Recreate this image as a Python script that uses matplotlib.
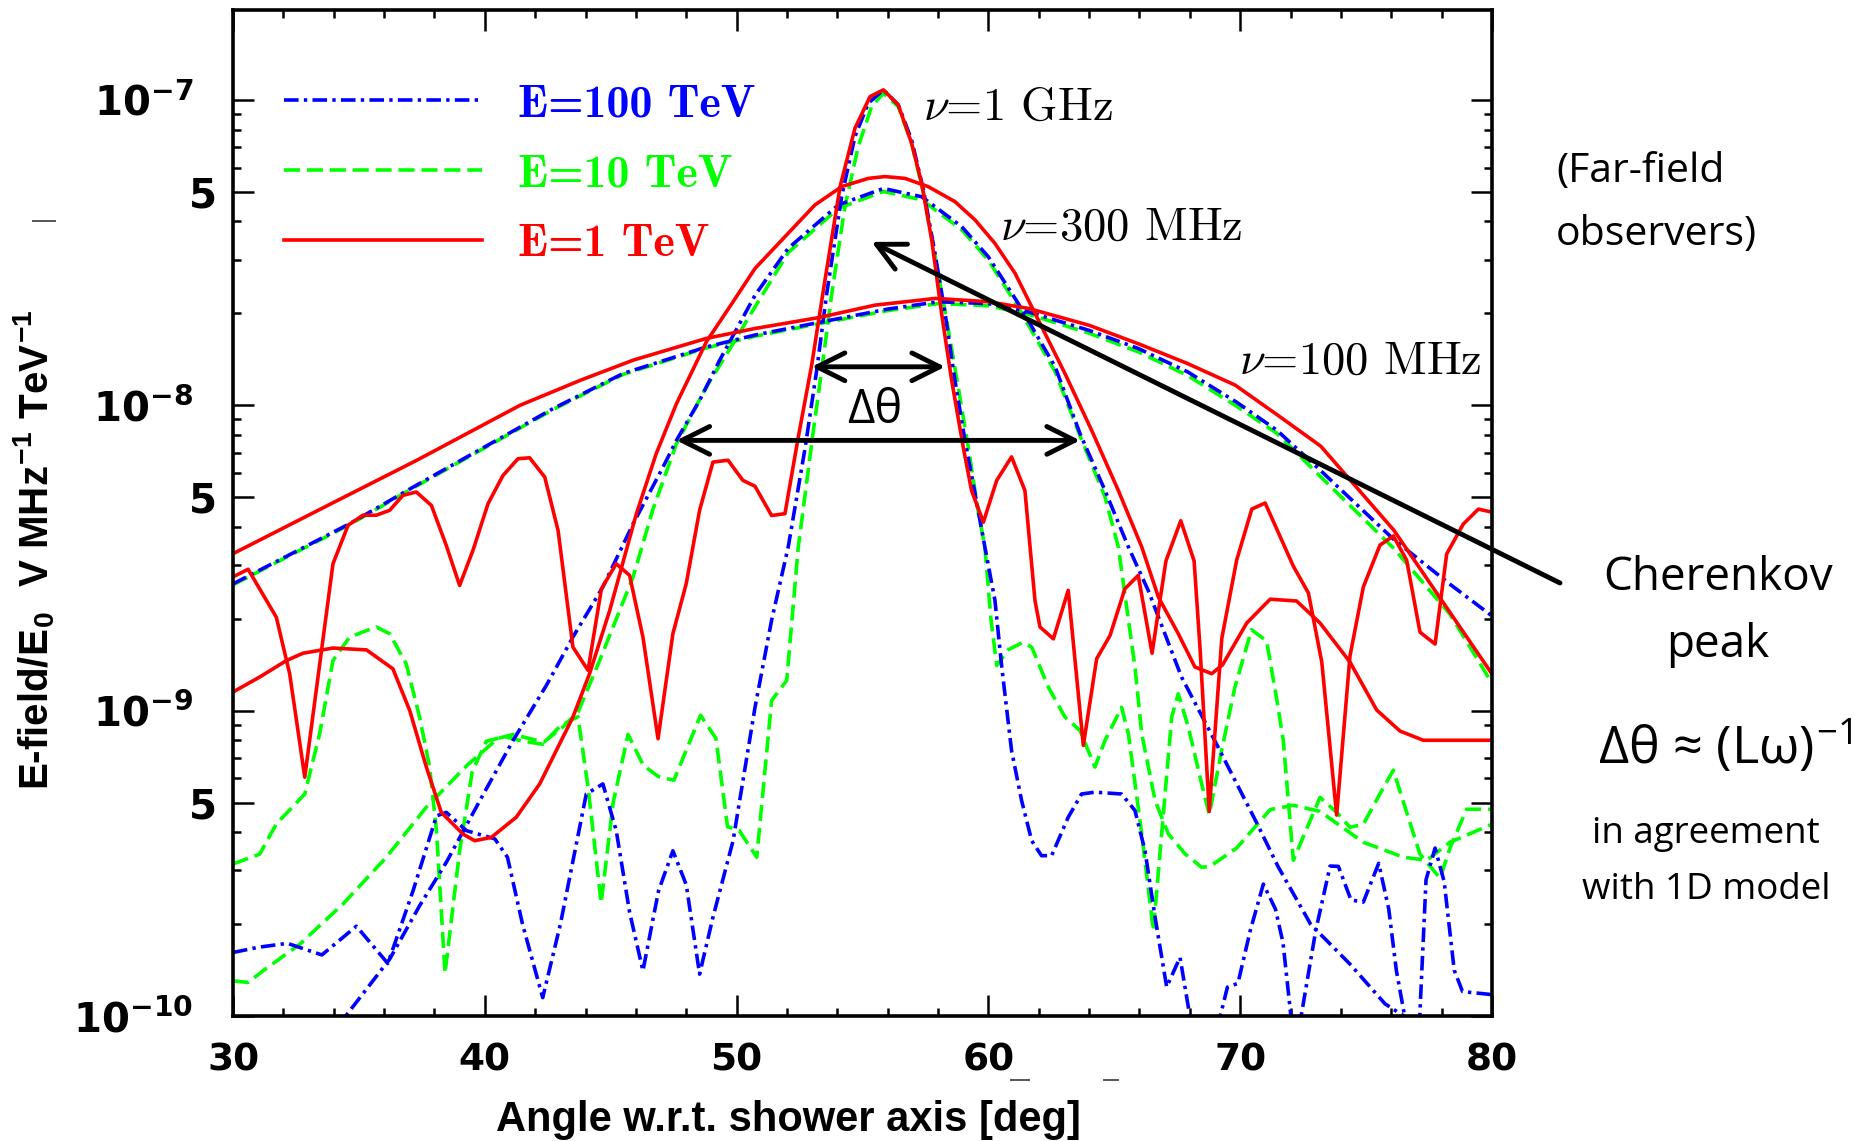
import numpy as np
import matplotlib
matplotlib.use("Agg")
import matplotlib.pyplot as plt
from matplotlib.lines import Line2D
from matplotlib.ticker import FixedLocator, NullFormatter

plt.rcParams["mathtext.fontset"] = "cm"
plt.rcParams["lines.scale_dashes"] = False
plt.rcParams["axes.unicode_minus"] = True

# ---------------------------------------------------------------------------
# Far-field electric field per unit shower energy, log10(E/E0 [V MHz^-1 TeV^-1])
# versus observation angle w.r.t. the shower axis [deg]
# ---------------------------------------------------------------------------

# nu = 100 MHz
ang_r100 = [30.0, 34.0, 37.3, 41.4, 43.8, 45.9, 48.8, 50.7, 53.25, 55.5, 57.9,
            60.0, 61.6, 64.0, 66.0, 67.9, 69.8, 71.5, 73.2, 76.1, 80.0]
log_r100 = [-8.486, -8.318, -8.180, -8.000, -7.918, -7.852, -7.781, -7.749, -7.713,
            -7.672, -7.650, -7.661, -7.683, -7.738, -7.800, -7.863, -7.934, -8.033,
            -8.134, -8.409, -8.880]

ang_b100 = [30.0, 34.63, 37.28, 42.71, 45.49, 48.8, 50.73, 53.38, 56.0, 58.01, 60.0,
            61.58, 63.97, 65.95, 67.9, 69.86, 71.46, 73.17, 76.08, 78.33, 80.0]
log_b100 = [-8.585, -8.388, -8.262, -8.011, -7.896, -7.809, -7.770, -7.727, -7.685,
            -7.661, -7.667, -7.694, -7.754, -7.814, -7.890, -7.990, -8.082, -8.212,
            -8.438, -8.586, -8.690]

ang_g100 = [30.0, 34.63, 37.28, 42.71, 45.49, 48.8, 50.73, 53.38, 56.0, 58.01, 60.0,
            61.58, 63.97, 65.95, 67.9, 69.86, 71.46, 73.17, 76.08, 78.33, 80.0]
log_g100 = [-8.588, -8.391, -8.265, -8.014, -7.899, -7.812, -7.774, -7.731, -7.690,
            -7.667, -7.674, -7.702, -7.763, -7.825, -7.902, -8.003, -8.092, -8.232,
            -8.467, -8.684, -8.910]

# nu = 300 MHz
ang_r300 = [30.0, 31.06, 32.12, 32.78, 33.97, 35.3, 36.35, 37.02, 37.68, 38.27, 39.13,
            39.6, 40.26, 41.25, 42.18, 43.5, 44.16, 44.96, 46.02, 46.81, 47.61, 48.8,
            49.86, 50.73, 51.92, 53.11, 54.17, 55.23, 55.89, 56.69, 57.61, 58.67, 59.47,
            60.26, 61.06, 62.25, 63.04, 64.1, 65.16, 66.09, 66.75, 67.54, 68.2, 68.87,
            69.3, 70.26, 71.19, 72.24, 73.17, 74.36, 75.42, 76.35, 77.27, 78.33, 80.0]
log_r300 = [-8.939, -8.890, -8.836, -8.812, -8.795, -8.801, -8.863, -9.000, -9.185,
            -9.333, -9.404, -9.426, -9.415, -9.349, -9.240, -9.021, -8.879, -8.672,
            -8.355, -8.158, -7.995, -7.792, -7.661, -7.552, -7.448, -7.344, -7.284,
            -7.257, -7.251, -7.257, -7.284, -7.333, -7.393, -7.470, -7.568, -7.765,
            -7.896, -8.082, -8.279, -8.464, -8.628, -8.748, -8.857, -8.879, -8.850,
            -8.713, -8.635, -8.641, -8.713, -8.841, -8.998, -9.067, -9.097, -9.097,
            -9.097]

ang_b300 = [34.0, 34.43, 36.22, 37.41, 38.47, 39.8, 41.12, 42.44, 43.5, 44.69, 45.89,
            47.08, 47.61, 48.53, 49.33, 50.73, 52.05, 54.04, 55.83, 57.35, 58.94, 60.0,
            61.19, 62.65, 63.64, 64.63, 65.56, 66.35, 67.67, 69.0, 70.67, 71.5, 72.8,
            74.36, 75.75, 76.5, 77.5]
log_b300 = [-10.05, -10.005, -9.814, -9.639, -9.497, -9.295, -9.098, -8.918, -8.759,
            -8.595, -8.388, -8.202, -8.115, -7.984, -7.852, -7.640, -7.486, -7.344,
            -7.290, -7.317, -7.415, -7.514, -7.667, -7.874, -8.093, -8.279, -8.464,
            -8.607, -8.890, -9.100, -9.370, -9.510, -9.700, -9.830, -9.960, -10.000,
            -10.080]

ang_g300 = [30.0, 30.6, 31.19, 32.65, 34.37, 36.09, 37.68, 39.31, 40.52, 41.13, 42.34,
            43.11, 43.71, 44.56, 45.89, 46.68, 47.61, 48.8, 49.86, 50.73, 52.05, 54.04,
            55.83, 57.35, 58.94, 60.0, 61.19, 62.65, 63.64, 64.63, 65.16, 65.82, 66.09,
            66.62, 67.15, 67.81, 68.47, 68.8, 69.86, 71.19, 72.11, 73.17, 74.89, 76.48,
            77.41, 78.33, 80.0]
log_g300 = [-9.885, -9.890, -9.852, -9.765, -9.633, -9.480, -9.316, -9.178, -9.091,
            -9.078, -9.103, -9.053, -9.003, -8.836, -8.562, -8.340, -8.126, -7.940,
            -7.798, -7.678, -7.500, -7.355, -7.300, -7.327, -7.425, -7.525, -7.680,
            -7.890, -8.100, -8.300, -8.464, -8.857, -9.076, -9.295, -9.404, -9.469,
            -9.513, -9.510, -9.450, -9.324, -9.310, -9.330, -9.431, -9.480, -9.490,
            -9.431, -9.372]

# nu = 1 GHz
ang_r1g = [30.0, 30.6, 31.72, 32.25, 32.85, 33.97, 34.57, 35.16, 35.69, 36.22, 36.75,
           37.28, 37.88, 38.47, 39.0, 39.53, 40.13, 40.72, 41.32, 41.78, 42.38, 42.91,
           43.5, 44.1, 44.63, 45.22, 45.75, 46.28, 46.88, 47.47, 48.0, 48.53, 49.06,
           49.66, 50.25, 50.73, 51.39, 51.92, 52.45, 52.98, 53.51, 54.11, 54.7, 55.3,
           55.83, 56.42, 56.95, 57.35, 57.75, 58.14, 58.54, 59.0, 59.33, 59.8, 60.33,
           60.92, 61.45, 61.85, 62.05, 62.58, 63.17, 63.77, 64.3, 64.83, 65.42, 65.95,
           66.5, 67.05, 67.64, 68.17, 68.41, 68.77, 69.27, 69.86, 70.46, 70.99, 72.11,
           72.71, 73.24, 73.83, 74.36, 74.89, 75.55, 76.08, 76.61, 77.14, 77.74, 78.2,
           78.86, 79.46, 80.0]
log_r1g = [-8.562, -8.537, -8.694, -8.879, -9.218, -8.519, -8.393, -8.360, -8.360,
           -8.344, -8.295, -8.284, -8.328, -8.459, -8.590, -8.475, -8.322, -8.230,
           -8.175, -8.172, -8.235, -8.410, -8.792, -8.868, -8.601, -8.519, -8.557,
           -8.759, -9.092, -8.748, -8.584, -8.344, -8.186, -8.180, -8.246, -8.265,
           -8.361, -8.355, -8.104, -7.869, -7.590, -7.284, -7.093, -6.989, -6.967,
           -7.016, -7.142, -7.273, -7.459, -7.699, -7.918, -8.137, -8.279, -8.383,
           -8.246, -8.169, -8.279, -8.640, -8.726, -8.765, -8.606, -9.114, -8.830,
           -8.754, -8.601, -8.557, -8.812, -8.510, -8.378, -8.510, -8.802, -9.330,
           -8.763, -8.507, -8.340, -8.320, -8.527, -8.615, -8.841, -9.342, -8.821,
           -8.595, -8.458, -8.428, -8.507, -8.743, -8.782, -8.487, -8.389, -8.340,
           -8.350]

ang_b1g = [30.0, 31.0, 32.16, 33.53, 34.9, 36.15, 37.15, 38.08, 38.47, 39.27, 40.4,
           40.9, 41.5, 42.3, 43.0, 44.03, 44.69, 45.22, 45.75, 46.28, 46.9, 47.47, 48.0,
           48.53, 49.06, 49.86, 50.73, 51.39, 52.05, 52.72, 53.18, 53.58, 54.17, 54.7,
           55.23, 55.83, 56.42, 56.95, 57.42, 57.88, 58.28, 58.67, 59.07, 59.47, 59.86,
           60.26, 60.53, 60.92, 61.32, 61.72, 62.11, 62.51, 63.17, 63.7, 64.23, 65.29,
           65.82, 66.22, 66.62, 67.08, 67.61, 68.01, 68.5, 69.15, 69.49, 69.91, 70.4,
           70.92, 71.4, 71.7, 72.04, 72.2, 72.38, 73.0, 73.57, 73.9, 74.4, 74.89, 75.5,
           75.9, 76.2, 76.53, 76.8, 77.12, 77.38, 77.74, 78.1, 78.5, 78.83, 80.0]
log_b1g = [-9.792, -9.775, -9.762, -9.800, -9.706, -9.828, -9.590, -9.345, -9.333,
           -9.393, -9.420, -9.480, -9.700, -9.940, -9.700, -9.273, -9.240, -9.393,
           -9.660, -9.852, -9.590, -9.459, -9.570, -9.863, -9.677, -9.426, -8.990,
           -8.704, -8.464, -8.140, -7.886, -7.634, -7.317, -7.120, -7.011, -6.967,
           -7.016, -7.131, -7.295, -7.503, -7.699, -7.918, -8.115, -8.290, -8.464,
           -8.639, -8.857, -9.131, -9.295, -9.426, -9.475, -9.475, -9.349, -9.273,
           -9.267, -9.273, -9.327, -9.459, -9.677, -9.905, -9.808, -10.005, -10.40,
           -10.02, -9.906, -9.893, -9.720, -9.568, -9.650, -9.760, -10.02, -10.30,
           -10.02, -9.720, -9.509, -9.510, -9.620, -9.627, -9.500, -9.650, -9.850,
           -10.00, -10.30, -10.02, -9.554, -9.450, -9.560, -9.850, -9.920, -9.930]

ang_g1g = [30.0, 31.06, 31.72, 32.85, 33.44, 33.97, 34.63, 35.69, 36.22, 36.88, 37.41,
           37.81, 38.08, 38.42, 39.0, 39.5, 40.06, 40.8, 41.5, 42.3, 43.0, 43.7, 44.1,
           44.62, 45.1, 45.69, 46.3, 46.9, 47.51, 48.57, 49.18, 49.64, 50.1, 50.8,
           51.39, 51.99, 52.45, 53.05, 53.38, 53.78, 54.3, 54.83, 55.36, 55.83, 56.42,
           56.95, 57.42, 57.9, 58.34, 58.8, 59.2, 59.6, 59.86, 60.1, 60.33, 60.8, 61.35,
           61.72, 62.38, 63.04, 63.64, 64.23, 64.63, 65.29, 65.56, 66.09, 66.55, 66.88,
           67.28, 67.54, 67.94, 68.47, 68.77, 69.26, 69.79, 70.45, 71.05, 71.46, 71.71,
           72.11, 73.17, 73.83, 74.36, 74.89, 75.5, 76.08, 77.14, 77.94, 78.33, 78.99,
           80.0]
log_g1g = [-9.502, -9.470, -9.371, -9.273, -9.076, -8.836, -8.759, -8.726, -8.748,
           -8.847, -9.021, -9.185, -9.393, -9.860, -9.460, -9.200, -9.100, -9.085,
           -9.100, -9.110, -9.050, -9.020, -9.250, -9.630, -9.300, -9.078, -9.180,
           -9.216, -9.228, -9.015, -9.091, -9.380, -9.392, -9.480, -8.967, -8.901,
           -8.464, -8.082, -7.885, -7.634, -7.350, -7.153, -7.022, -6.978, -7.022,
           -7.142, -7.306, -7.520, -7.721, -7.940, -8.137, -8.350, -8.464, -8.700,
           -8.852, -8.800, -8.777, -8.792, -8.923, -9.021, -9.065, -9.185, -9.098,
           -8.989, -9.076, -9.404, -9.721, -9.404, -9.021, -8.945, -9.054, -9.240,
           -9.340, -9.131, -8.923, -8.735, -8.772, -8.967, -9.097, -9.490, -9.284,
           -9.333, -9.382, -9.372, -9.280, -9.195, -9.470, -9.549, -9.450, -9.323,
           -9.323]

# axis ticks
x_major = [30, 40, 50, 60, 70, 80]
x_minor = [v for v in range(30, 81, 2) if v % 10]
y_major = [1e-10, 5e-10, 1e-9, 5e-9, 1e-8, 5e-8, 1e-7]
y_major_labels = [r"$\mathregular{10^{-10}}$", "5", r"$\mathregular{10^{-9}}$", "5",
                  r"$\mathregular{10^{-8}}$", "5", r"$\mathregular{10^{-7}}$"]
y_minor = [m * 10.0 ** e for e in (-10, -9, -8, -7) for m in (2, 3, 4, 6, 7, 8, 9)]

energy_labels = ["E=100 TeV", "E=10 TeV", "E=1 TeV"]
freq_labels = [r"$\nu$=1 GHz", r"$\nu$=300 MHz", r"$\nu$=100 MHz"]

# ---------------------------------------------------------------------------
W, H, DPI = 1855, 1141, 100
BLUE, GREEN, RED = "#0000ff", "#00ff00", "#ff0000"
LW = 2.6
blue_style = dict(color=BLUE, lw=LW, dashes=(10.5, 3.8, 2.4, 3.8))
green_style = dict(color=GREEN, lw=LW, dashes=(11.5, 5.0))
red_style = dict(color=RED, lw=LW)


def field(logs):
    return 10.0 ** np.asarray(logs, dtype=float)


fig = plt.figure(figsize=(W / DPI, H / DPI), dpi=DPI)
ax = fig.add_axes([233 / W, 1 - 1016 / H, (1492 - 233) / W, (1016 - 10) / H])
ax.set_yscale("log")

# green (10 TeV), blue (100 TeV), red (1 TeV)
ax.plot(ang_g1g, field(log_g1g), **green_style)
ax.plot(ang_g300, field(log_g300), **green_style)
line_g, = ax.plot(ang_g100, field(log_g100), **green_style)
ax.plot(ang_b1g, field(log_b1g), **blue_style)
ax.plot(ang_b300, field(log_b300), **blue_style)
line_b, = ax.plot(ang_b100, field(log_b100), **blue_style)
ax.plot(ang_r1g, field(log_r1g), **red_style)
ax.plot(ang_r300, field(log_r300), **red_style)
line_r, = ax.plot(ang_r100, field(log_r100), **red_style)

ax.set_xlim(30, 80)
ax.set_ylim(1e-10, 1.97e-7)

# ticks
ax.set_xticks(x_major, [str(v) for v in x_major], fontsize=27, fontweight="bold",
              fontfamily="DejaVu Sans")
ax.xaxis.set_minor_locator(FixedLocator(x_minor))
ax.set_yticks(y_major, y_major_labels, fontsize=29, fontweight="bold",
              fontfamily="DejaVu Sans")
ax.yaxis.set_minor_locator(FixedLocator(y_minor))
ax.yaxis.set_minor_formatter(NullFormatter())
ax.tick_params(which="both", direction="in", top=True, right=True, width=1.8,
               color="black")
ax.tick_params(which="major", length=15)
ax.tick_params(which="minor", length=6)
ax.tick_params(axis="y", which="major", pad=28.8)
ax.tick_params(axis="x", which="major", pad=19)
for tick, lab in zip(ax.yaxis.get_major_ticks(), y_major_labels):
    if lab == "5":
        tick.set_pad(11.5)
for sp in ax.spines.values():
    sp.set_linewidth(2.6)

# axis titles
ax.set_xlabel("Angle w.r.t. shower axis [deg]", fontsize=30, fontweight="bold",
              fontfamily="Liberation Sans")
ax.xaxis.set_label_coords((788 - 233) / 1259, -(1100 - 1016) / 1006)
ax.set_ylabel(r"E-field/E$_\mathregular{0}$  V MHz$^{\mathregular{-1}}$ TeV$^{\mathregular{-1}}$",
              fontsize=29, fontweight="bold", fontfamily="Liberation Sans")
ax.yaxis.set_label_coords((57 - 233) / 1259, 1 - (550 - 10) / 1006)

# legend
fs_leg = 33
px = fs_leg * DPI / 72
ax.legend([line_b, line_g, line_r], energy_labels, loc="upper left",
          bbox_to_anchor=((284 - 233) / 1259, 1 - (84 - 10) / 1006),
          frameon=False, prop={"family": "cmb10", "size": fs_leg},
          handlelength=198 / px, handletextpad=36 / px, labelspacing=0.63,
          borderpad=0, borderaxespad=0, labelcolor="linecolor")

# frequency labels
for (x0, ly), lab in zip([(57.40, -7.066), (60.46, -7.459), (69.95, -7.898)], freq_labels):
    ax.text(x0, 10 ** ly, lab, fontsize=33.5, fontfamily="cmr10", ha="left",
            va="baseline")

# angular-width arrows
head = "head_length=1.0,head_width=0.5"
arrow_kw = dict(lw=3.5, color="black", shrinkA=0, shrinkB=0, mutation_scale=20)
ax.annotate("", xy=(52.98, 10 ** -7.874), xytext=(58.28, 10 ** -7.874),
            arrowprops=dict(arrowstyle="<->," + head, **arrow_kw))
ax.annotate("", xy=(47.61, 10 ** -8.115), xytext=(63.64, 10 ** -8.115),
            arrowprops=dict(arrowstyle="<->," + head, **arrow_kw))
ax.text(55.49, 10 ** -8.016, "Δθ", fontsize=34, ha="center", va="center",
        fontfamily=["Open Sans", "DejaVu Sans"])

# Cherenkov-peak pointer
ax.annotate("", xy=(55.36, 10 ** -7.465), xycoords="data",
            xytext=(1560 / W, 1 - 583 / H), textcoords="figure fraction",
            arrowprops=dict(arrowstyle="->," + head, **arrow_kw),
            annotation_clip=False)

# side notes
side = ["Open Sans", "DejaVu Sans"]
fig.text(1556 / W, 1 - 203 / H, "(Far-field\nobservers)", fontsize=29.5,
         ha="left", va="center", linespacing=1.75, fontfamily=side)
fig.text(1718 / W, 1 - 612 / H, "Cherenkov\npeak", fontsize=33, ha="center",
         va="center", linespacing=1.6, fontfamily=side, multialignment="center")
fig.text(1725 / W, 1 - 748 / H, r"Δθ ≈ (Lω)$^{\mathregular{-1}}$", fontsize=37.5,
         ha="center", va="center", fontfamily=side)
fig.text(1706 / W, 1 - 862 / H, "in agreement\nwith 1D model", fontsize=26.5,
         ha="center", va="center", linespacing=1.75, fontfamily=side,
         multialignment="center")

# small stray strokes in the margins
for (xa, xb, yy) in [(33, 55, 221), (1011, 1029, 1080), (1104, 1118, 1080)]:
    fig.add_artist(Line2D([xa / W, xb / W], [1 - yy / H, 1 - yy / H],
                          transform=fig.transFigure, color="#555555", lw=1.4))

fig.savefig("out.png", dpi=DPI)
